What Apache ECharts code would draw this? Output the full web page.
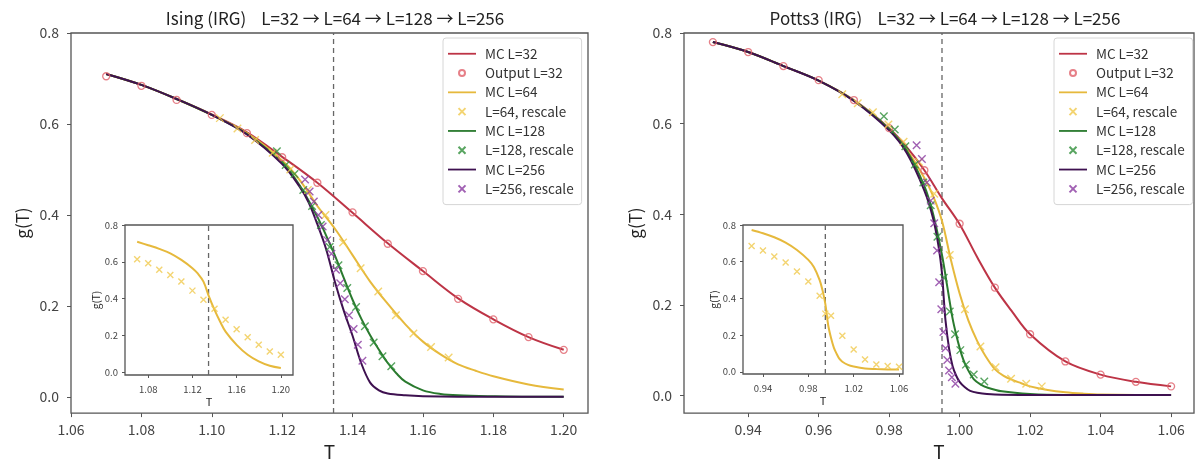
<!DOCTYPE html>
<html><head><meta charset="utf-8">
<script src="https://cdn.jsdelivr.net/npm/echarts@6/dist/echarts.min.js"></script>
<style>html,body{margin:0;padding:0;background:#fff}#c{width:1196px;height:466px}</style>
</head><body><div id="c"></div><script>
// ---------------- Ising (left panel) ----------------
const isingTc = 1.1346;
const isingT32 = [1.07,1.08,1.09,1.10,1.11,1.12,1.13,1.14,1.15,1.16,1.17,1.18,1.19,1.20];
const isingMC32 = [0.71,0.686,0.655,0.621,0.582,0.528,0.471,0.405,0.338,0.277,0.217,0.171,0.132,0.104];
const isingOut32 = [0.705,0.684,0.653,0.62,0.58,0.527,0.471,0.406,0.337,0.277,0.216,0.171,0.132,0.104];
const isingT64 = [1.07,1.08,1.09,1.10,1.11,1.12,1.125,1.13,1.135,1.14,1.145,1.15,1.155,1.16,1.165,1.17,1.175,1.18,1.19,1.20];
const isingMC64 = [0.71,0.686,0.655,0.62,0.58,0.52,0.477,0.42,0.37,0.312,0.254,0.205,0.16,0.122,0.094,0.072,0.058,0.046,0.028,0.017];
const isingRT64 = [1.1023,1.1073,1.1123,1.1173,1.1223,1.1273,1.1323,1.1373,1.1423,1.1473,1.1523,1.1573,1.1623,1.1673];
const isingR64 = [0.613,0.59,0.565,0.537,0.5,0.455,0.4,0.34,0.283,0.232,0.18,0.14,0.11,0.087];
const isingT128 = [1.07,1.08,1.09,1.10,1.11,1.12,1.125,1.13,1.1325,1.135,1.1375,1.14,1.1425,1.145,1.1475,1.15,1.1525,1.155,1.16,1.165,1.17,1.18,1.19,1.20];
const isingMC128 = [0.71,0.686,0.655,0.62,0.578,0.515,0.465,0.396,0.355,0.311,0.262,0.214,0.172,0.136,0.104,0.075,0.052,0.034,0.015,0.007,0.004,0.002,0.001,0.001];
const isingRT128 = [1.1185,1.121,1.1235,1.126,1.1285,1.131,1.1335,1.136,1.1385,1.141,1.1435,1.146,1.1485,1.151];
const isingR128 = [0.54,0.51,0.49,0.455,0.42,0.378,0.33,0.29,0.24,0.198,0.156,0.12,0.09,0.068];
const isingT256 = [1.07,1.08,1.09,1.10,1.11,1.12,1.125,1.1275,1.13,1.1325,1.135,1.1375,1.14,1.1425,1.145,1.1475,1.15,1.155,1.16,1.17,1.18,1.19,1.20];
const isingMC256 = [0.71,0.686,0.655,0.62,0.577,0.512,0.462,0.428,0.38,0.325,0.253,0.19,0.135,0.074,0.032,0.015,0.008,0.004,0.002,0.001,0.001,0.001,0.001];
const isingRT256 = [1.1265,1.1278,1.129,1.1303,1.1315,1.1328,1.134,1.1353,1.1365,1.1378,1.139,1.1403,1.1415,1.1428];
const isingR256 = [0.478,0.452,0.43,0.40,0.375,0.345,0.315,0.28,0.25,0.215,0.18,0.15,0.115,0.08];
// Ising inset
const isingInT = [1.07,1.08,1.09,1.10,1.11,1.12,1.125,1.13,1.135,1.14,1.145,1.15,1.16,1.17,1.18,1.19,1.20];
const isingInMC = [0.709,0.69,0.67,0.646,0.61,0.565,0.535,0.492,0.41,0.338,0.275,0.22,0.148,0.094,0.058,0.034,0.022];
const isingInPT = [1.07,1.08,1.09,1.10,1.11,1.12,1.13,1.14,1.15,1.16,1.17,1.18,1.19,1.20];
const isingInP = [0.614,0.592,0.556,0.528,0.492,0.443,0.393,0.344,0.284,0.233,0.19,0.148,0.112,0.094];

// ---------------- Potts3 (right panel) ----------------
const pottsTc = 0.995;
const pottsT32 = [0.93,0.94,0.95,0.96,0.97,0.98,0.985,0.99,0.995,1.0,1.005,1.01,1.015,1.02,1.03,1.04,1.05,1.06];
const pottsMC32 = [0.78,0.758,0.727,0.695,0.652,0.59,0.548,0.497,0.435,0.378,0.305,0.238,0.184,0.135,0.075,0.046,0.030,0.020];
const pottsOutT = [0.93,0.94,0.95,0.96,0.97,0.98,0.99,1.00,1.01,1.02,1.03,1.04,1.05,1.06];
const pottsOut32 = [0.78,0.758,0.727,0.696,0.652,0.59,0.497,0.379,0.238,0.135,0.075,0.046,0.030,0.020];
const pottsT64 = [0.93,0.94,0.95,0.96,0.97,0.98,0.985,0.99,0.9925,0.995,0.9975,1.0,1.0025,1.005,1.0075,1.01,1.0125,1.015,1.0175,1.02,1.025,1.03,1.035,1.04,1.05,1.06];
const pottsMC64 = [0.78,0.758,0.727,0.695,0.651,0.588,0.542,0.48,0.44,0.385,0.30,0.225,0.165,0.12,0.085,0.058,0.043,0.034,0.027,0.02,0.012,0.007,0.004,0.002,0.001,0.001];
const pottsRT64 = [0.9667,0.9711,0.9754,0.9798,0.9841,0.9885,0.9928,0.9972,1.0015,1.0059,1.0102,1.0146,1.0189,1.0233];
const pottsR64 = [0.665,0.645,0.625,0.598,0.56,0.515,0.445,0.31,0.19,0.108,0.062,0.037,0.026,0.02];
const pottsT128 = [0.93,0.94,0.95,0.96,0.97,0.98,0.985,0.99,0.9925,0.995,0.9965,0.998,0.999,1.0,1.001,1.002,1.004,1.006,1.008,1.012,1.02,1.03,1.06];
const pottsMC128 = [0.78,0.758,0.727,0.695,0.651,0.588,0.54,0.462,0.40,0.31,0.24,0.17,0.135,0.105,0.08,0.062,0.036,0.024,0.017,0.009,0.003,0.001,0.001];
const pottsRT128 = [0.9785,0.9816,0.9846,0.9873,0.9897,0.9918,0.9937,0.9955,0.9972,0.9987,1.0002,1.0018,1.0040,1.0070];
const pottsR128 = [0.616,0.587,0.55,0.51,0.47,0.42,0.35,0.26,0.185,0.135,0.1,0.068,0.046,0.031];
const pottsT256 = [0.93,0.94,0.95,0.96,0.97,0.98,0.985,0.99,0.9925,0.994,0.995,0.9955,0.996,0.997,0.998,0.999,1.0,1.0015,1.003,1.005,1.01,1.02,1.06];
const pottsMC256 = [0.78,0.758,0.727,0.695,0.65,0.585,0.535,0.452,0.39,0.33,0.27,0.215,0.165,0.104,0.065,0.044,0.03,0.018,0.01,0.006,0.002,0.001,0.001];
const pottsRT256 = [0.9878,0.9893,0.9907,0.9918,0.9928,0.9936,0.9942,0.9948,0.9954,0.9960,0.9965,0.9970,0.9978,0.9988];
const pottsR256 = [0.552,0.522,0.47,0.43,0.38,0.32,0.25,0.19,0.14,0.104,0.078,0.055,0.04,0.026];
// Potts inset
const pottsInT = [0.93,0.94,0.95,0.96,0.97,0.98,0.985,0.99,0.9925,0.995,0.9975,1.0,1.0025,1.005,1.0075,1.01,1.015,1.02,1.03,1.04,1.05,1.06];
const pottsInMC = [0.773,0.755,0.733,0.704,0.664,0.61,0.57,0.50,0.445,0.37,0.255,0.185,0.132,0.098,0.07,0.055,0.038,0.029,0.018,0.015,0.013,0.012];
const pottsInPT = [0.93,0.94,0.95,0.96,0.97,0.98,0.99,0.995,1.00,1.01,1.02,1.03,1.04,1.05,1.06];
const pottsInP = [0.686,0.661,0.628,0.595,0.547,0.492,0.414,0.317,0.306,0.197,0.121,0.067,0.04,0.031,0.027];

// ---------------- tick labels ----------------
const isingXTicks = [1.06,1.08,1.10,1.12,1.14,1.16,1.18,1.20];
const pottsXTicks = [0.94,0.96,0.98,1.00,1.02,1.04,1.06];
const gTicks = [0.0,0.2,0.4,0.6,0.8];
const isingInXTicks = [1.08,1.12,1.16,1.20];
const pottsInXTicks = [0.94,0.98,1.02,1.06];

const names = ['MC L=32','Output L=32','MC L=64','L=64, rescale','MC L=128','L=128, rescale','MC L=256','L=256, rescale'];
const titles = ['Ising (IRG)    L=32 \u2192 L=64 \u2192 L=128 \u2192 L=256','Potts3 (IRG)    L=32 \u2192 L=64 \u2192 L=128 \u2192 L=256'];

const C = {
  r:'#bd3446', rc:'#e0606a', y:'#e6b93c', yc:'#f0c94e', g:'#2a7a2e', gc:'#2f8f3a', p:'#3e1150', pc:'#8a3aa0'
};
const FONT = 'Noto Sans CJK JP';
const XSYM = 'path://M0,0L10,10M10,0L0,10';
// legend icons (box 28x11 kept by the two leading moves)
const ICON_LINE = 'path://M0,0M28,11M0,4.6L28,4.6L28,6.4L0,6.4Z';
const ICON_CIRC = 'path://M0,0M28,11M17,5.5A3,3 0 1 1 11,5.5A3,3 0 1 1 17,5.5Z';
const ICON_X = 'path://M0,0M28,11M10.5,2L17.5,9M17.5,2L10.5,9';

function zip(a,b){ return a.map((v,i)=>[v,b[i]]); }
function lineS(name, ax, xs, ys, color){
  return {type:'line', name, xAxisIndex:ax, yAxisIndex:ax, data:zip(xs,ys),
    symbol:'none', showSymbol:false, smooth:0.35,
    lineStyle:{color, width:2}, itemStyle:{color}, animation:false, z:2};
}
function circS(name, ax, xs, ys, color){
  return {type:'scatter', name, xAxisIndex:ax, yAxisIndex:ax, data:zip(xs,ys), symbol:'circle', symbolSize:7,
    itemStyle:{color:'rgba(255,255,255,0)', borderColor:color, borderWidth:1.3}, animation:false, z:3};
}
function crossS(name, ax, xs, ys, color, size){
  return {type:'scatter', name, xAxisIndex:ax, yAxisIndex:ax, data:zip(xs,ys), symbol:XSYM, symbolSize:size||7.5,
    itemStyle:{color:'rgba(0,0,0,0)', borderColor:color, borderWidth:1.4}, animation:false, z:3};
}
function tcLine(ax, tc, y0, y1){
  return {type:'line', name:'Tc', xAxisIndex:ax, yAxisIndex:ax, data:[[tc,y0],[tc,y1]], symbol:'none',
    lineStyle:{type:[5,4], color:'#666', width:1.3}, animation:false, silent:true, z:1};
}
function xAx(grid, min, max, ticks, dig, fs, nameFs, nameGap, margin, tl){
  return {type:'value', gridIndex:grid, min, max, name:'T', nameLocation:'middle', nameGap,
    nameTextStyle:{fontSize:nameFs, color:'#222', fontFamily:FONT},
    axisLine:{show:false, onZero:false}, splitLine:{show:false},
    axisTick:{show:true, customValues:ticks, length:tl, lineStyle:{color:'#555', width:1}},
    axisLabel:{customValues:ticks, formatter:v=>v.toFixed(dig), fontSize:fs, color:'#444', margin, fontFamily:FONT}};
}
function yAx(grid, min, max, fs, nameFs, nameGap, margin, tl){
  return {type:'value', gridIndex:grid, min, max, name:'g(T)', nameLocation:'middle', nameGap, nameRotate:90,
    nameTextStyle:{fontSize:nameFs, color:'#222', fontFamily:FONT},
    axisLine:{show:false, onZero:false}, splitLine:{show:false},
    axisTick:{show:true, customValues:gTicks, length:tl, lineStyle:{color:'#555', width:1}},
    axisLabel:{customValues:gTicks, formatter:v=>v.toFixed(1), fontSize:fs, color:'#444', margin, fontFamily:FONT}};
}
const iconFor = [ICON_LINE, ICON_CIRC, ICON_LINE, ICON_X, ICON_LINE, ICON_X, ICON_LINE, ICON_X];
function legendAt(left){
  return {orient:'vertical', left, top:38, data:names.map((n,i)=>({name:n, icon:iconFor[i]})),
    itemWidth:28, itemHeight:11, itemGap:5.8, symbolKeepAspect:true,
    padding:[9,8,9,4], backgroundColor:'#fff', borderColor:'#d6d6d6', borderWidth:1, borderRadius:3,
    textStyle:{fontSize:13.5, color:'#333', fontFamily:FONT, padding:[0,0,0,4]}, selectedMode:false};
}

const grids = [
  {left:71, top:33, width:517, height:386},
  {left:125, top:225, width:168, height:150},
  {left:684, top:33, width:510, height:386},
  {left:743, top:225, width:160, height:149}
].map(g=>Object.assign({show:true, backgroundColor:'#fff', borderColor:'#555', borderWidth:1.3}, g));

const yLim = [[-0.035,0.8],[-0.016,0.8],[-0.039,0.8],[-0.012,0.8]];

const option = {
  animation:false,
  backgroundColor:'#fff',
  textStyle:{fontFamily:FONT},
  title:[
    {text:titles[0], left:330, top:5, textAlign:'center', textStyle:{fontSize:17, fontWeight:'normal', color:'#222', fontFamily:FONT}},
    {text:titles[1], left:940, top:5, textAlign:'center', textStyle:{fontSize:17, fontWeight:'normal', color:'#222', fontFamily:FONT}}
  ],
  legend:[legendAt(443), legendAt(1054)],
  grid:grids,
  xAxis:[
    xAx(0, 1.06, 1.2069, isingXTicks, 2, 14, 19, 18, 10, 4),
    xAx(1, 1.059, 1.211, isingInXTicks, 2, 9.5, 11, 21, 10, 3),
    xAx(2, 0.9218, 1.0665, pottsXTicks, 2, 14, 19, 18, 10, 4),
    xAx(3, 0.9224, 1.0635, pottsInXTicks, 2, 9.5, 11, 21, 10, 3)
  ],
  yAxis:[
    yAx(0, yLim[0][0], yLim[0][1], 14, 17, 40, 12, 4),
    yAx(1, yLim[1][0], yLim[1][1], 9.5, 10, 23, 7, 3),
    yAx(2, yLim[2][0], yLim[2][1], 14, 17, 40, 12, 4),
    yAx(3, yLim[3][0], yLim[3][1], 9.5, 10, 23, 7, 3)
  ],
  series:[
    tcLine(0, isingTc, yLim[0][0], yLim[0][1]),
    lineS(names[0], 0, isingT32, isingMC32, C.r),
    circS(names[1], 0, isingT32, isingOut32, C.rc),
    lineS(names[2], 0, isingT64, isingMC64, C.y),
    crossS(names[3], 0, isingRT64, isingR64, C.yc),
    lineS(names[4], 0, isingT128, isingMC128, C.g),
    crossS(names[5], 0, isingRT128, isingR128, C.gc),
    lineS(names[6], 0, isingT256, isingMC256, C.p),
    crossS(names[7], 0, isingRT256, isingR256, C.pc),
    tcLine(1, isingTc, yLim[1][0], yLim[1][1]),
    lineS('inset-ising-mc', 1, isingInT, isingInMC, C.y),
    crossS('inset-ising-out', 1, isingInPT, isingInP, C.yc, 6),

    tcLine(2, pottsTc, yLim[2][0], yLim[2][1]),
    lineS(names[0], 2, pottsT32, pottsMC32, C.r),
    circS(names[1], 2, pottsOutT, pottsOut32, C.rc),
    lineS(names[2], 2, pottsT64, pottsMC64, C.y),
    crossS(names[3], 2, pottsRT64, pottsR64, C.yc),
    lineS(names[4], 2, pottsT128, pottsMC128, C.g),
    crossS(names[5], 2, pottsRT128, pottsR128, C.gc),
    lineS(names[6], 2, pottsT256, pottsMC256, C.p),
    crossS(names[7], 2, pottsRT256, pottsR256, C.pc),
    tcLine(3, pottsTc, yLim[3][0], yLim[3][1]),
    lineS('inset-potts-mc', 3, pottsInT, pottsInMC, C.y),
    crossS('inset-potts-out', 3, pottsInPT, pottsInP, C.yc, 6)
  ]
};
const chart = echarts.init(document.getElementById('c'), null, {renderer:'canvas'});
chart.setOption(option);
</script></body></html>
